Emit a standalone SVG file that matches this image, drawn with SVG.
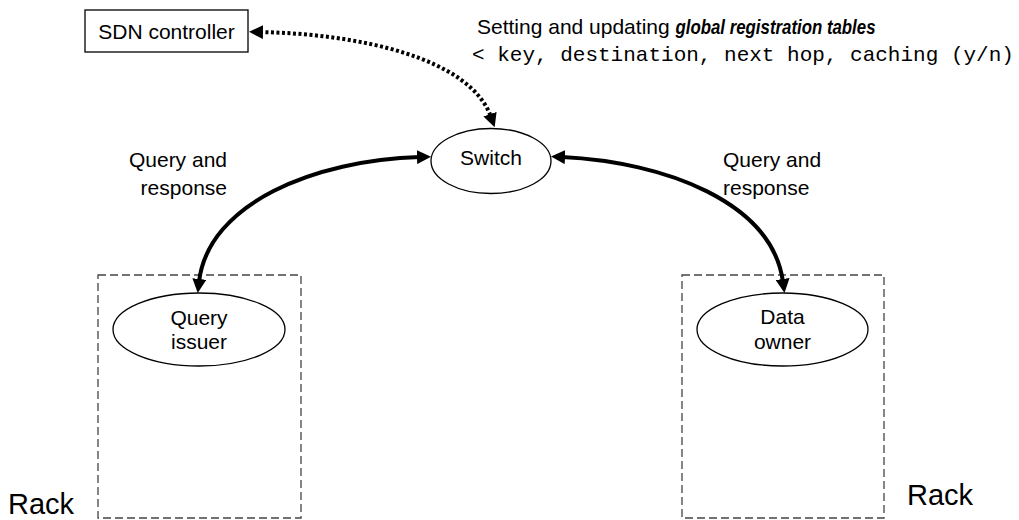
<svg xmlns="http://www.w3.org/2000/svg" width="1019" height="520" viewBox="0 0 1019 520">
<style>
.t{font-family:"Liberation Sans",Arial,sans-serif;font-size:21px;fill:#000}
.m{font-family:"Liberation Mono","Courier New",monospace;font-size:21px;fill:#000}
.big{font-family:"Liberation Sans",Arial,sans-serif;font-size:29px;fill:#000}
.node{fill:#fff;stroke:#000;stroke-width:1.3}
.rack{fill:none;stroke:#444;stroke-width:1.3;stroke-dasharray:8 4}
.solid{fill:none;stroke:#000;stroke-width:4}
.dot{fill:none;stroke:#000;stroke-width:4;stroke-dasharray:3 2.5}
</style>
<defs>
<marker id="ah" viewBox="0 0 14 14" refX="3" refY="7" markerWidth="14" markerHeight="14" markerUnits="userSpaceOnUse" orient="auto-start-reverse">
<path d="M0,0 L14,7 L0,14 z" fill="#000"/>
</marker>
</defs>
<g id="rack-left">
<rect class="rack" x="98" y="275" width="203" height="243"/>
<text class="big" x="8" y="514">Rack</text>
</g>
<g id="rack-right">
<rect class="rack" x="682" y="275" width="202" height="243"/>
<text class="big" x="907" y="505">Rack</text>
</g>
<g id="sdn-controller">
<rect class="node" x="85" y="10" width="163" height="42"/>
<text class="t" x="166.5" y="38.5" text-anchor="middle">SDN controller</text>
</g>
<g id="switch">
<ellipse class="node" cx="491" cy="161" rx="60" ry="32.5"/>
<text class="t" x="491" y="165" text-anchor="middle">Switch</text>
</g>
<g id="query-issuer">
<ellipse class="node" cx="199" cy="329.5" rx="86" ry="36.5"/>
<text class="t" x="199" y="325" text-anchor="middle">Query</text>
<text class="t" x="199" y="349" text-anchor="middle">issuer</text>
</g>
<g id="data-owner">
<ellipse class="node" cx="782.5" cy="329.5" rx="85.5" ry="36.5"/>
<text class="t" x="782.5" y="324" text-anchor="middle">Data</text>
<text class="t" x="782.5" y="349" text-anchor="middle">owner</text>
</g>
<g id="connectors">
<path class="dot" d="M260,32 C360,34 470,58 491,117" marker-start="url(#ah)" marker-end="url(#ah)"/>
<path class="solid" d="M420,157 C315,160 208,203 199,282" marker-start="url(#ah)" marker-end="url(#ah)"/>
<path class="solid" d="M562,157 C665,162 772,202 783,282" marker-start="url(#ah)" marker-end="url(#ah)"/>
</g>
<g id="labels">
<text class="t" x="477" y="34">Setting and updating <tspan font-weight="bold" font-style="italic" textLength="200" lengthAdjust="spacingAndGlyphs">global registration tables</tspan></text>
<text class="m" x="472" y="61">&lt; key, destination, next hop, caching (y/n)</text>
<text class="t" x="227" y="167" text-anchor="end">Query and</text>
<text class="t" x="227" y="195" text-anchor="end">response</text>
<text class="t" x="723" y="167">Query and</text>
<text class="t" x="723" y="195">response</text>
</g>
</svg>
